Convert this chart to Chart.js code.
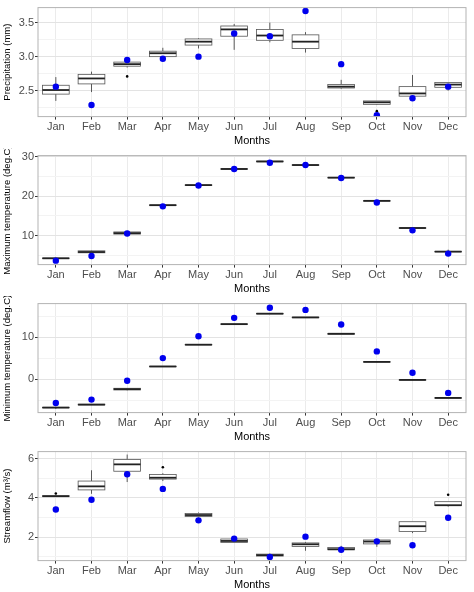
<!DOCTYPE html>
<html><head><meta charset="utf-8">
<script src="https://cdn.jsdelivr.net/npm/chart.js@4/dist/chart.umd.min.js"></script>
<style>body{margin:0;background:#fff}.p{position:absolute;left:0;width:474px;height:148px}</style>
</head><body>
<div class="p" style="top:0"><canvas id="c0"></canvas></div>
<div class="p" style="top:148px"><canvas id="c1"></canvas></div>
<div class="p" style="top:296px"><canvas id="c2"></canvas></div>
<div class="p" style="top:444px"><canvas id="c3"></canvas></div>
<script>
const months=['Jan','Feb','Mar','Apr','May','Jun','Jul','Aug','Sep','Oct','Nov','Dec'];
// [low whisker, q1, median, q3, high whisker]
const precipBox=[[2.35,2.45,2.51,2.58,2.70],[2.48,2.60,2.68,2.74,2.78],[2.84,2.86,2.89,2.92,2.93],[2.99,3.00,3.05,3.08,3.13],[3.12,3.17,3.22,3.26,3.27],[3.10,3.30,3.40,3.45,3.48],[3.21,3.24,3.31,3.40,3.50],[3.06,3.12,3.22,3.32,3.36],[2.53,2.54,2.56,2.59,2.66],[2.29,2.30,2.33,2.35,2.35],[2.40,2.42,2.46,2.56,2.73],[2.50,2.55,2.59,2.62,2.62]];
const precipObs=[2.56,2.29,2.95,2.97,3.00,3.34,3.30,3.67,2.89,2.14,2.39,2.56];
const precipOut=[null,null,2.71,null,null,null,null,null,null,2.20,null,null];
const tmaxBox=[[4.1,4.15,4.2,4.25,4.3],[5.5,5.6,5.8,6.1,6.2],[10.3,10.35,10.6,10.9,10.95],[17.6,17.65,17.7,17.75,17.8],[22.7,22.75,22.8,22.85,22.9],[26.8,26.85,26.9,26.95,27.0],[28.7,28.75,28.8,28.9,28.95],[27.8,27.85,27.9,27.95,28.0],[24.6,24.65,24.7,24.75,24.8],[18.7,18.75,18.8,18.85,18.9],[11.8,11.85,11.9,11.95,12.0],[5.8,5.85,5.9,5.95,6.4]];
const tmaxObs=[3.6,4.8,10.5,17.4,22.7,26.9,28.5,27.9,24.6,18.4,11.3,5.4];
const tminBox=[[-7.1,-6.85,-6.8,-6.75,-6.7],[-6.2,-6.15,-6.1,-6.0,-5.95],[-2.7,-2.6,-2.4,-2.2,-2.15],[2.9,2.95,3.0,3.05,3.1],[8.1,8.15,8.2,8.25,8.3],[13.0,13.05,13.1,13.15,13.2],[15.5,15.55,15.6,15.65,15.7],[14.6,14.65,14.7,14.75,14.8],[10.7,10.7,10.8,10.9,10.9],[4.0,4.05,4.1,4.15,4.2],[-0.3,-0.25,-0.2,-0.15,-0.1],[-4.6,-4.55,-4.5,-4.45,-4.4]];
const tminObs=[-5.7,-4.9,-0.4,5.0,10.2,14.6,17.0,16.5,13.0,6.6,1.5,-3.3];
const flowBox=[[4.05,4.07,4.08,4.10,4.12],[4.2,4.4,4.58,4.85,5.4],[4.8,5.35,5.7,5.95,6.2],[4.85,4.95,5.02,5.18,5.25],[3.0,3.05,3.12,3.2,3.25],[1.7,1.72,1.8,1.9,1.95],[1.0,1.03,1.08,1.13,1.15],[1.3,1.52,1.63,1.7,1.75],[1.3,1.35,1.38,1.47,1.55],[1.5,1.65,1.77,1.85,1.9],[2.2,2.28,2.55,2.78,2.78],[3.55,3.6,3.62,3.8,3.8]];
const flowObs=[3.4,3.9,5.2,4.45,2.85,1.92,0.98,2.02,1.35,1.78,1.58,2.98];
const flowOut=[4.22,null,null,5.55,null,null,null,null,null,null,null,4.15];

const boxPlugin={id:'boxes',beforeDatasetsDraw(chart){
  const b=chart.options.plugins.boxes.data;const x=chart.scales.x,y=chart.scales.y,ctx=chart.ctx;
  const w=(x.getPixelForValue(1)-x.getPixelForValue(0))*0.75;
  ctx.save();
  b.forEach((d,i)=>{const cx=x.getPixelForValue(i);
    ctx.strokeStyle='#333';ctx.lineWidth=0.8;
    ctx.beginPath();ctx.moveTo(cx,y.getPixelForValue(d[0]));ctx.lineTo(cx,y.getPixelForValue(d[1]));
    ctx.moveTo(cx,y.getPixelForValue(d[3]));ctx.lineTo(cx,y.getPixelForValue(d[4]));ctx.stroke();
    const t=y.getPixelForValue(d[3]),bt=y.getPixelForValue(d[1]);
    ctx.fillStyle='#fff';ctx.fillRect(cx-w/2,t,w,bt-t);ctx.strokeStyle='#555';ctx.strokeRect(cx-w/2,t,w,bt-t);
    ctx.strokeStyle='#222';ctx.lineWidth=1.8;ctx.beginPath();
    const m=y.getPixelForValue(d[2]);ctx.moveTo(cx-w/2,m);ctx.lineTo(cx+w/2,m);ctx.stroke();});
  ctx.restore();}};
const borderPlugin={id:'frame',afterDraw(chart){const a=chart.chartArea,ctx=chart.ctx;ctx.save();ctx.strokeStyle='#b3b3b3';ctx.lineWidth=1;ctx.strokeRect(a.left,a.top,a.right-a.left,a.bottom-a.top);ctx.restore();}};

function make(id,box,obs,out,min,max,step,title){
  const ds=[{type:'line',data:obs,showLine:false,pointRadius:3.2,pointBackgroundColor:'#0000ee',pointBorderWidth:0,order:1}];
  if(out) ds.push({type:'line',data:out,showLine:false,pointRadius:1.3,pointBackgroundColor:'#000',pointBorderWidth:0,order:2});
  new Chart(document.getElementById(id),{type:'line',data:{labels:months,datasets:ds},plugins:[boxPlugin,borderPlugin],
   options:{responsive:true,maintainAspectRatio:false,animation:false,layout:{padding:{left:2,right:8,top:4,bottom:0}},
    plugins:{legend:{display:false},tooltip:{enabled:false},boxes:{data:box}},
    scales:{x:{offset:true,grid:{color:'#ebebeb',offset:false,tickLength:3,tickColor:'#333'},border:{display:false},
        ticks:{color:'#4d4d4d',font:{family:'Liberation Sans',size:11},padding:1},
        title:{display:true,text:'Months',color:'#000',font:{family:'Liberation Sans',size:11},padding:{top:0,bottom:0}}},
      y:{min:min,max:max,border:{display:false},afterFit(s){s.width=36;},afterBuildTicks(s){const t=[];for(let v=Math.ceil(min/step)*step;v<=max+1e-9;v+=step)t.push({value:+v.toFixed(4)});s.ticks=t;},
        grid:{color:c=>{const v=c.tick.value/(step*2);return Math.abs(v-Math.round(v))<1e-6?'#e3e3e3':'#f3f3f3'},tickLength:3,tickColor:c=>{const v=c.tick.value/(step*2);return Math.abs(v-Math.round(v))<1e-6?'#333':'rgba(0,0,0,0)'}},
        ticks:{color:'#4d4d4d',font:{family:'Liberation Sans',size:11},padding:1,callback:v=>{const r=v/(step*2);return Math.abs(r-Math.round(r))<1e-6?(step<0.5?v.toFixed(1):v):''}},
        title:{display:true,text:title,color:'#000',font:{family:'Liberation Sans',size:9.5},padding:{top:0,bottom:2}}}}}});
}
make('c0',precipBox,precipObs,precipOut,2.12,3.72,0.25,'Precipitation (mm)');
make('c1',tmaxBox,tmaxObs,null,2.6,30.3,5,'Maximum temperature (deg.C)');
make('c2',tminBox,tminObs,null,-8.0,18.0,5,'Minimum temperature (deg.C)');
make('c3',flowBox,flowObs,flowOut,0.8,6.35,1,'Streamflow (m³/s)');
</script></body></html>
